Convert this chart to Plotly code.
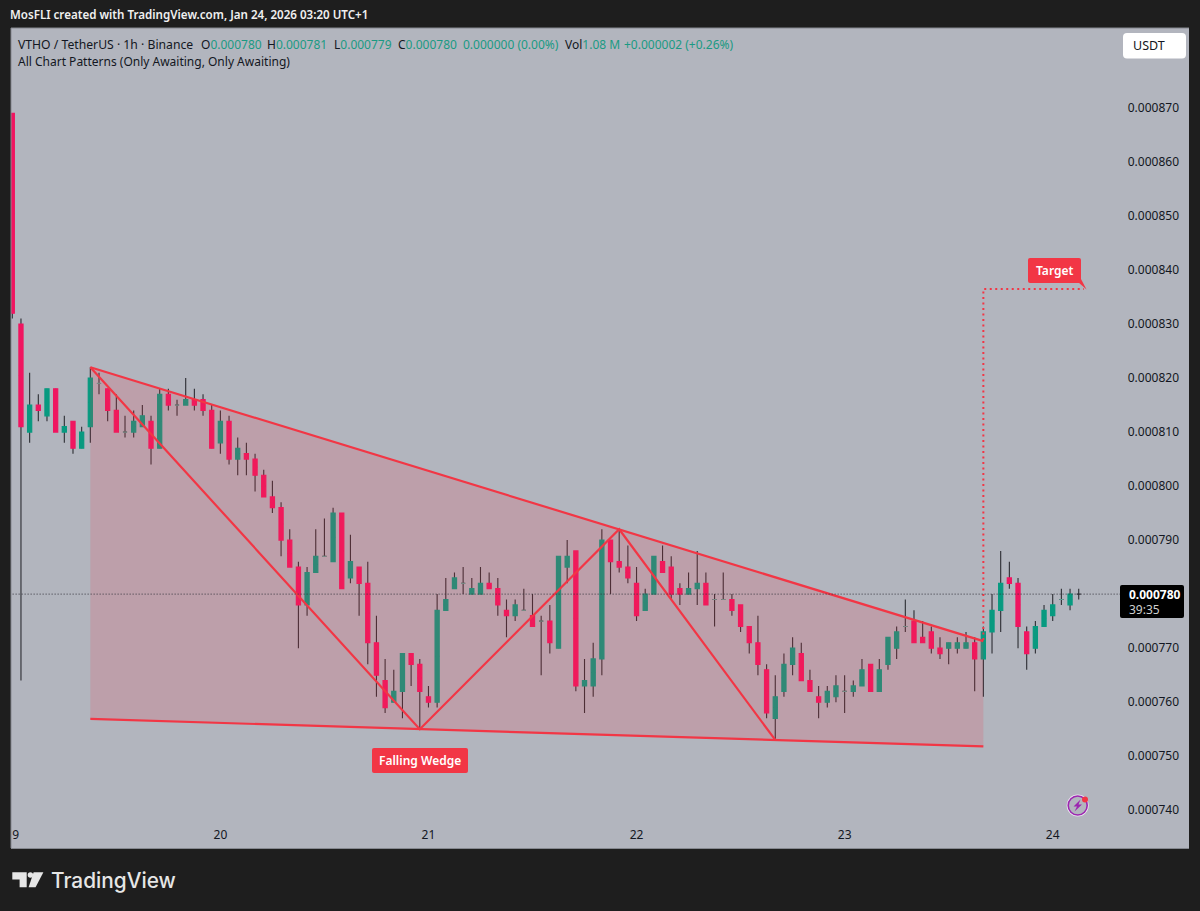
import plotly.graph_objects as go
import pandas as pd

# prices are in units of 0.000001 USDT; one list entry per hourly candle from Jan 19 00:00
opens = [869,830,810,815,813,818,810,812,807,811,819,818,814,810,810,811,812,807,817,815,815,816,816,814,808,812,805,806,805,802,798,796,790,785,
         778,784,787,786,795,783,785,782,771,764,760,762,769,767,761,760,777,781,782,780,780,782,781,777,776,777,776,775,775,770,785,788,763,763,768,790,
         786,785,782,777,780,786,785,781,780,781,782,779,779,779,778,774,771,766,757,762,767,769,764,761,760,761,762,762,763,767,762,767,770,774,775,772,
         773,770,770,770,770,771,768,773,777,783,782,773,770,774,776,779,778,780]
closes = [832,811,815,814,818,810,811,807,810,820,819,814,810,810,812,813,807,817,815,815,816,815,814,807,812,805,807,805,802,798,796,790,785,778,
          784,787,787,795,781,786,782,771,765,759,762,769,767,762,760,777,779,783,782,781,782,781,778,776,778,777,774,775,771,787,787,763,764,768,790,786,
          785,783,776,780,787,784,780,780,781,782,778,779,779,777,774,771,767,758,761,767,770,764,762,760,762,763,762,763,766,762,766,772,773,774,771,771,
          770,769,771,771,771,768,773,777,782,782,774,769,774,777,778,779,780,780]
highs = [869,831,821,817,818,818,813,812,811,822,821,818,817,813,814,815,813,818,818,816,820,818,817,815,814,813,809,808,806,803,801,797,792,786,
         785,792,794,796,795,791,785,786,776,768,766,769,769,768,763,780,783,784,785,783,785,784,783,779,779,781,780,776,778,787,790,788,768,771,792,790,
         792,789,785,781,787,789,787,782,784,788,784,780,784,780,778,774,776,767,765,769,772,771,766,763,763,765,765,764,768,767,768,772,774,779,777,775,
         774,772,771,772,773,772,774,780,788,786,783,774,775,778,780,781,781,781]
lows = [831,764,808,812,812,810,808,806,807,808,817,812,810,809,809,811,804,807,814,813,815,814,813,807,806,804,802,802,799,798,795,787,785,770,
        776,784,787,786,781,782,776,767,761,758,762,757,763,755,759,759,777,781,780,780,780,781,776,772,775,777,774,765,769,770,782,762,758,761,765,780,
        784,782,775,777,780,784,779,778,781,778,778,774,779,776,773,769,765,757,753,761,765,764,762,757,759,760,758,761,763,762,762,766,768,773,771,771,
        769,768,767,769,770,762,761,769,773,781,770,766,769,774,775,778,777,779]

day_ticks = ["2026-01-19", "2026-01-20", "2026-01-21", "2026-01-22", "2026-01-23", "2026-01-24"]
day_labels = ["19", "20", "21", "22", "23", "24"]
price_ticks = [740, 750, 760, 770, 790, 800, 810, 820, 830, 840, 850, 860, 870]

# pattern pivots: hour offset and price
upper_h = [9, 70, 112]
upper_p = [822, 792, 771.3]
lower_h = [9, 47, 88, 112]
lower_p = [756.9, 755, 753, 751.8]
zigzag_h = [9, 47, 70, 88]
zigzag_p = [822, 755, 792, 753]
target_h = [112, 112, 123.6]
target_p = [771.5, 836.5, 836.5]

RED = "#f01560"
GREEN = "#089a80"
ALERT = "#f23645"
WICK = "#2c2d33"
PANEL = "#b2b5be"
DARK = "#1e1e1e"
W, H = 1200, 911
FONT = "Noto Sans"

t0 = pd.Timestamp("2026-01-19 00:00")
def t(h):
    return t0 + pd.to_timedelta(h, unit="h")
def us(vals):
    return [v * 1e-6 for v in vals]
hours = list(range(len(opens)))
times = [t(h) for h in hours]

def px(x): return x / W
def py(y): return 1 - y / H
def rrect(x0, y0, x1, y1, r):
    return (f"M{px(x0+r)},{py(y0)} L{px(x1-r)},{py(y0)} Q{px(x1)},{py(y0)} {px(x1)},{py(y0+r)} "
            f"L{px(x1)},{py(y1-r)} Q{px(x1)},{py(y1)} {px(x1-r)},{py(y1)} "
            f"L{px(x0+r)},{py(y1)} Q{px(x0)},{py(y1)} {px(x0)},{py(y1-r)} "
            f"L{px(x0)},{py(y0+r)} Q{px(x0)},{py(y0)} {px(x0+r)},{py(y0)} Z")
def poly(points):
    return "M" + " L".join(f"{px(a)},{py(b)}" for a, b in points) + " Z"
def pshape(path, fill, line=None, lw=0):
    return dict(type="path", path=path, xref="paper", yref="paper", fillcolor=fill,
                line=dict(color=line or fill, width=lw), layer="above")
def circle(cx, cy, r, fill, line=None, lw=0):
    return dict(type="circle", xref="paper", yref="paper", x0=px(cx-r), x1=px(cx+r), y0=py(cy+r), y1=py(cy-r),
                fillcolor=fill, line=dict(color=line or fill, width=lw), layer="above")
def label(x, y, text, size=12, color="#131722", anchor="left", **font):
    return dict(x=px(x), y=py(y), xref="paper", yref="paper", text=text, showarrow=False, xanchor=anchor,
                yanchor="middle", align="left", font=dict(family=FONT, size=size, color=color, **font),
                borderpad=0, borderwidth=0)

fig = go.Figure()

# wedge fill and lines
fig.add_trace(go.Scatter(x=[t(h) for h in upper_h] + [t(h) for h in lower_h[::-1]],
                         y=us(upper_p + lower_p[::-1]), fill="toself", mode="none",
                         fillcolor="rgba(242,54,69,0.17)", hoverinfo="skip", showlegend=False))
for hs, ps in ((upper_h, upper_p), (lower_h, lower_p), (zigzag_h, zigzag_p)):
    fig.add_trace(go.Scatter(x=[t(h) for h in hs], y=us(ps), mode="lines", showlegend=False,
                             line=dict(color=ALERT, width=2.2), hoverinfo="skip"))
fig.add_trace(go.Scatter(x=[t(h) for h in target_h], y=us(target_p), mode="lines", showlegend=False,
                         line=dict(color=ALERT, width=2, dash="2px,3.5px"), hoverinfo="skip"))
# last price line
fig.add_trace(go.Scatter(x=[t(-1), t(127.9)], y=us([closes[-1], closes[-1]]), mode="lines", showlegend=False,
                         line=dict(color="#33343a", width=1, dash="1px,2px"), hoverinfo="skip"))

# wicks only: the dark box is collapsed to the middle of the body, which then covers it
mids = [(a + b) / 2 for a, b in zip(opens, closes)]
fig.add_trace(go.Candlestick(x=times, open=us(mids), high=us(highs), low=us(lows), close=us(mids),
                             increasing=dict(line=dict(color=WICK, width=1.1), fillcolor=WICK),
                             decreasing=dict(line=dict(color=WICK, width=1.1), fillcolor=WICK),
                             whiskerwidth=0, showlegend=False, name="wick"))
# bodies drawn over the wicks
idx = [i for i in hours if opens[i] != closes[i]]
fig.add_trace(go.Candlestick(x=[times[i] for i in idx],
                             open=us([opens[i] for i in idx]), close=us([closes[i] for i in idx]),
                             high=us([max(opens[i], closes[i]) for i in idx]),
                             low=us([min(opens[i], closes[i]) for i in idx]),
                             increasing=dict(line=dict(color=GREEN, width=1.2), fillcolor=GREEN),
                             decreasing=dict(line=dict(color=RED, width=1.2), fillcolor=RED),
                             whiskerwidth=0, showlegend=False, name="body"))
doji = [i for i in hours if opens[i] == closes[i] and i < len(hours) - 1]
fig.add_trace(go.Candlestick(x=[times[i] for i in doji],
                             open=us([opens[i] for i in doji]), close=us([closes[i] for i in doji]),
                             high=us([closes[i] for i in doji]), low=us([closes[i] for i in doji]),
                             increasing=dict(line=dict(color="#5f9c92", width=1.2), fillcolor=GREEN),
                             decreasing=dict(line=dict(color="#5f9c92", width=1.2), fillcolor=GREEN),
                             whiskerwidth=0, showlegend=False, name="doji"))

shapes = [
    # frame outside the panel
    dict(type="rect", xref="paper", yref="paper", x0=0, x1=px(11), y0=0, y1=1, fillcolor=DARK, line=dict(width=0), layer="above"),
    dict(type="line", xref="paper", yref="paper", x0=px(11), x1=px(1189), y0=py(28), y1=py(28), line=dict(color="#85888f", width=1), layer="above"),
    dict(type="line", xref="paper", yref="paper", x0=px(11), x1=px(1189), y0=py(848.5), y1=py(848.5), line=dict(color="#85888f", width=1), layer="above"),
    dict(type="line", xref="paper", yref="paper", x0=px(11), x1=px(11), y0=py(28), y1=py(848), line=dict(color="#85888f", width=1), layer="above"),
    # USDT button
    pshape(rrect(1123, 33, 1186, 58.5, 4), "#ffffff"),
    # price tag
    pshape(rrect(1120, 585, 1184, 618, 2), "#000000"),
    # callouts
    pshape(rrect(1028, 258, 1081, 283, 2), ALERT),
    pshape(poly([(1078, 282), (1086.5, 289.5), (1081, 279)]), ALERT),
    pshape(rrect(372, 748, 468, 773, 2), ALERT),
    # round badge
    circle(1077.7, 805.5, 11, "#efe6f3"),
    circle(1077.7, 805.5, 9.5, PANEL, "#9c27b0", 1.6),
    pshape(poly([(1080.5, 799.5), (1073.5, 806.5), (1077, 806.5), (1074.5, 811.5), (1082, 804.5), (1078.5, 804.5)]), "#9c27b0"),
    circle(1085, 799.5, 3, ALERT),
    # logo
    pshape(poly([(12.3, 872.3), (26.7, 872.3), (26.7, 887.3), (19.6, 887.3), (19.6, 879.5), (12.3, 879.5)]), "#e6e6e6"),
    circle(30.4, 875, 2.7, "#e6e6e6"),
    pshape(poly([(33.6, 872.3), (43.4, 872.3), (35.6, 887.3), (28.6, 887.3)]), "#e6e6e6"),
]

G = "#1b9a83"
annotations = [
    label(10, 15, "MosFLI created with TradingView.com, Jan 24, 2026 03:20 UTC+1", 11.6, "#f0f0f0", weight=600),
    label(18, 44, "VTHO / TetherUS · 1h · Binance", 12.2),
    label(201, 44, f'O<span style="color:{G}">0.000780</span>', 12),
    label(267, 44, f'H<span style="color:{G}">0.000781</span>', 12),
    label(334, 44, f'L<span style="color:{G}">0.000779</span>', 12),
    label(398, 44, f'C<span style="color:{G}">0.000780</span>', 12),
    label(463, 44, "0.000000 (0.00%)", 12, G),
    label(565, 44, f'Vol<span style="color:{G}">1.08 M</span>', 12),
    label(624, 44, "+0.000002 (+0.26%)", 12, G),
    label(18, 61, "All Chart Patterns (Only Awaiting, Only Awaiting)", 12),
    label(1133, 46, "USDT", 12.5),
    label(1129, 594, "0.000780", 12, "#ffffff", weight=700),
    label(1129, 609, "39:35", 12, "#d0d0d0"),
    label(1054.5, 270.5, "Target", 12, "#ffffff", "center", weight=600),
    label(420, 760, "Falling Wedge", 12, "#ffffff", "center", weight=600),
    dict(x=px(49), y=py(880.5), xref="paper", yref="paper", text="TradingView", showarrow=False, xanchor="left",
         yanchor="middle", font=dict(family="Inter", size=20.8, color="#e6e6e6", weight=500)),
]

fig.update_layout(
    width=W, height=H, margin=dict(l=0, r=0, t=0, b=0, pad=0), autosize=False,
    paper_bgcolor=DARK, plot_bgcolor=PANEL, showlegend=False, boxgap=0.32, boxmode="overlay",
    font=dict(family=FONT, size=12, color="#131722"),
    shapes=shapes, annotations=annotations, hovermode=False,
    xaxis=dict(domain=[px(11), px(1189)], range=[t(-0.15), t(135.72)], rangeslider=dict(visible=False),
               tickmode="array", tickvals=day_ticks, ticktext=day_labels, ticks="", showgrid=False, zeroline=False,
               ticklabelposition="inside", ticklabeloverflow="allow", ticklabelstandoff=4, automargin=False,
               tickfont=dict(family=FONT, size=12, color="#131722")),
    yaxis=dict(domain=[py(848), py(28)], range=[733e-6, 884.8e-6], side="right", tickmode="array",
               tickvals=us(price_ticks), tickformat=".6f", ticks="", showgrid=False, zeroline=False,
               ticklabelposition="inside", ticklabelstandoff=7, automargin=False,
               tickfont=dict(family=FONT, size=12, color="#131722")),
)

fig.write_html("out.html", config={"displayModeBar": False},
               post_script="document.body.style.margin='0';document.body.style.background='#1e1e1e';")
